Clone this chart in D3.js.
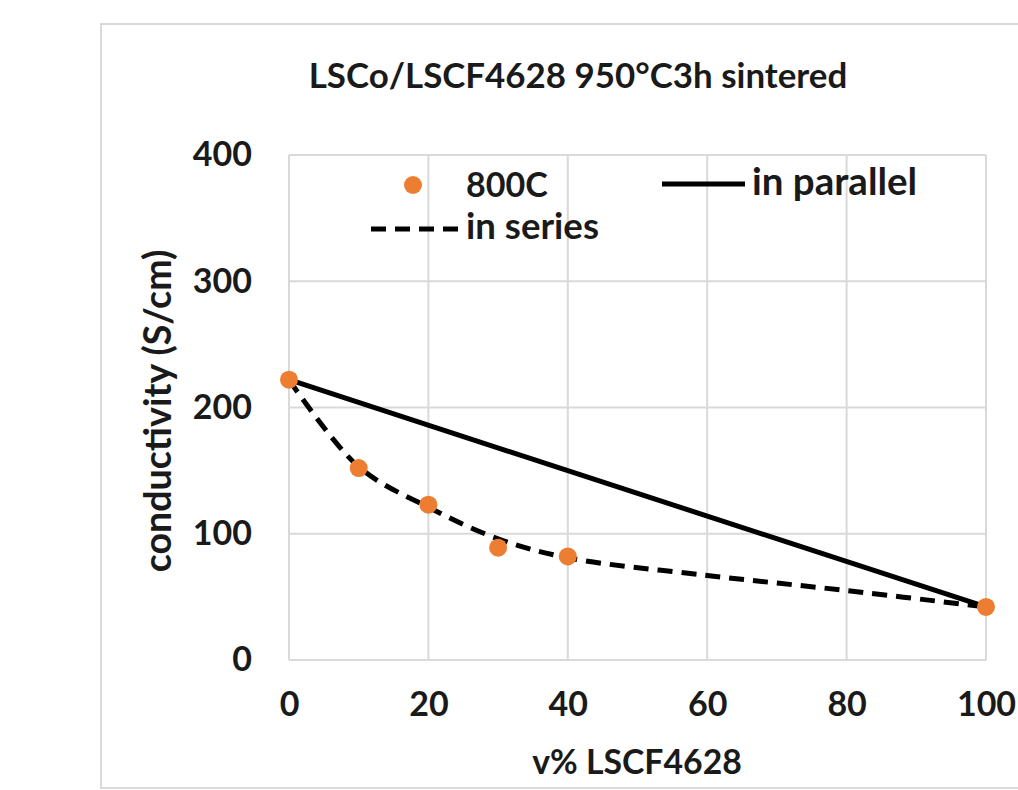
<!DOCTYPE html>
<html>
<head>
<meta charset="utf-8">
<script src="https://cdn.jsdelivr.net/npm/d3@7"></script>
<style>
  body { margin: 0; background: #fff; }
  text { font-family: Lato, "Open Sans", sans-serif; fill: #1a1a1a; }
</style>
</head>
<body>
<svg width="1018" height="790"></svg>
<script>
// data
var xTicks = [0, 20, 40, 60, 80, 100];
var yTicks = [0, 100, 200, 300, 400];

// measured points at 800C
var pointsX = [0, 10, 20, 30, 40, 100];
var pointsY = [222, 152, 123, 89, 82, 42];

// "in parallel" model line
var parallelX = [0, 100];
var parallelY = [222, 42];

// "in series" model line, read at a few places along the curve
var seriesX = [0, 10, 20, 30, 40, 60, 80, 100];
var seriesY = [222, 153, 121, 96, 81, 67, 55, 42];

var svg = d3.select("svg"),
    width = +svg.attr("width"),
    height = +svg.attr("height");

// outer chart frame (runs off the right edge)
svg.append("rect")
    .attr("x", 101).attr("y", 24)
    .attr("width", 960).attr("height", 764)
    .attr("fill", "none")
    .attr("stroke", "#d9d9d9")
    .attr("stroke-width", 2);

var x = d3.scaleLinear().domain([0, 100]).range([289, 986]);
var y = d3.scaleLinear().domain([0, 400]).range([660, 155]);

// gridlines
var grid = svg.append("g");
grid.selectAll("line.h")
    .data(yTicks)
    .enter().append("line")
    .attr("class", "h")
    .attr("x1", x(0)).attr("x2", x(100))
    .attr("y1", d => y(d)).attr("y2", d => y(d))
    .attr("stroke", "#d9d9d9")
    .attr("stroke-width", 2);
grid.selectAll("line.v")
    .data(xTicks)
    .enter().append("line")
    .attr("class", "v")
    .attr("y1", y(0)).attr("y2", y(400))
    .attr("x1", d => x(d)).attr("x2", d => x(d))
    .attr("stroke", "#d9d9d9")
    .attr("stroke-width", 2);

// tick labels through d3 axes, with the axis lines removed
var yAxis = svg.append("g")
    .attr("transform", "translate(" + x(0) + ",0)")
    .call(d3.axisLeft(y).tickValues(yTicks).tickSize(0).tickPadding(37));
var xAxis = svg.append("g")
    .attr("transform", "translate(0," + y(0) + ")")
    .call(d3.axisBottom(x).tickValues(xTicks).tickSize(0).tickPadding(32));
[yAxis, xAxis].forEach(function(a) {
    a.select(".domain").remove();
    a.selectAll("text")
        .attr("font-family", "Lato, sans-serif")
        .attr("font-size", "34px")
        .attr("font-weight", "bold")
        .attr("fill", "#1a1a1a");
});

// helper: scale the font so text spans a given width
function fitText(sel, targetWidth) {
    var fs = parseFloat(sel.attr("font-size"));
    var w = sel.node().getComputedTextLength();
    sel.attr("font-size", (fs * targetWidth / w).toFixed(1) + "px");
}

// title
var title = svg.append("text")
    .attr("x", 578).attr("y", 88)
    .attr("text-anchor", "middle")
    .attr("font-size", "32px")
    .attr("font-weight", "bold")
    .text("LSCo/LSCF4628 950°C3h sintered");
fitText(title, 538);

// axis titles
var xTitle = svg.append("text")
    .attr("x", 637).attr("y", 774)
    .attr("text-anchor", "middle")
    .attr("font-size", "32px")
    .attr("font-weight", "bold")
    .text("v% LSCF4628");
fitText(xTitle, 210);

var yTitle = svg.append("text")
    .attr("transform", "translate(171,411) rotate(-90)")
    .attr("text-anchor", "middle")
    .attr("font-size", "32px")
    .attr("font-weight", "bold")
    .text("conductivity (S/cm)");
fitText(yTitle, 323);

// lines
var line = d3.line()
    .x(d => x(d[0]))
    .y(d => y(d[1]));

svg.append("path")
    .datum(d3.zip(parallelX, parallelY))
    .attr("fill", "none")
    .attr("stroke", "#000")
    .attr("stroke-width", 5)
    .attr("d", line);

svg.append("path")
    .datum(d3.zip(seriesX, seriesY))
    .attr("fill", "none")
    .attr("stroke", "#000")
    .attr("stroke-width", 5)
    .attr("stroke-dasharray", "15,9")
    .attr("d", line.curve(d3.curveCatmullRom.alpha(0.5)));

// measured points
svg.append("g")
    .selectAll("circle")
    .data(d3.zip(pointsX, pointsY))
    .enter().append("circle")
    .attr("cx", d => x(d[0]))
    .attr("cy", d => y(d[1]))
    .attr("r", 9)
    .attr("fill", "#ed7d31");

// legend (no background, gridlines show through)
var legend = svg.append("g");

legend.append("circle")
    .attr("cx", 413).attr("cy", 185)
    .attr("r", 9)
    .attr("fill", "#ed7d31");
var l1 = legend.append("text")
    .attr("x", 466).attr("y", 197)
    .attr("font-size", "32px")
    .attr("font-weight", "bold")
    .text("800C");
fitText(l1, 82);

legend.append("line")
    .attr("x1", 662).attr("x2", 745)
    .attr("y1", 184).attr("y2", 184)
    .attr("stroke", "#000")
    .attr("stroke-width", 5);
var l2 = legend.append("text")
    .attr("x", 752).attr("y", 195)
    .attr("font-size", "32px")
    .attr("font-weight", "bold")
    .text("in parallel");
fitText(l2, 165);

legend.append("line")
    .attr("x1", 371).attr("x2", 460)
    .attr("y1", 229).attr("y2", 229)
    .attr("stroke", "#000")
    .attr("stroke-width", 5)
    .attr("stroke-dasharray", "15,9");
var l3 = legend.append("text")
    .attr("x", 466).attr("y", 239)
    .attr("font-size", "32px")
    .attr("font-weight", "bold")
    .text("in series");
fitText(l3, 133);
</script>
</body>
</html>
